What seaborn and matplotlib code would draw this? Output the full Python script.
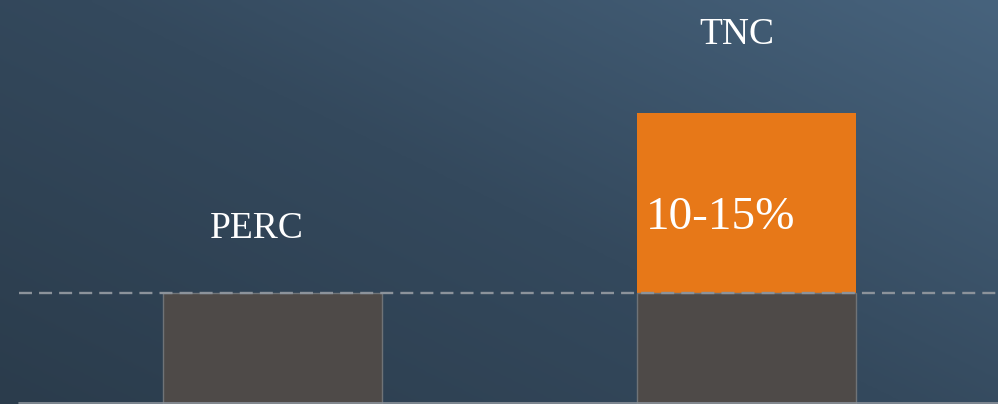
import numpy as np
import pandas as pd
import matplotlib
matplotlib.use("Agg")
import matplotlib.pyplot as plt
from matplotlib.colors import LinearSegmentedColormap
import seaborn as sns

# Cell technologies and their relative output (baseline = 1)
technologies = ["PERC", "TNC"]
baseline = [1.0, 1.0]
gain = [0.0, 1.62]
gain_label = "10-15%"

GRAY = "#4e4a48"
ORANGE = "#e77818"
EDGE = "#6f7377"
GUIDE = "#8c939b"

sns.set_theme(style="white")
plt.rcParams["font.family"] = ["Liberation Serif", "DejaVu Serif"]

df = pd.DataFrame({
    "tech": technologies,
    "base": baseline,
    "total": [b + g for b, g in zip(baseline, gain)],
})

fig = plt.figure(figsize=(9.98, 4.04), dpi=100)
ax = fig.add_axes([0, 0, 1, 1])

XMIN, XMAX = -0.575, 1.531
YMIN, YMAX = 0.0, 3.64

# diagonal blue background gradient
yy, xx = np.mgrid[0:1:200j, 0:1:400j]
t = 0.55 * xx + 0.45 * yy
bg = LinearSegmentedColormap.from_list("bg", ["#2b3c4c", "#34495d", "#47637d"])
ax.imshow(t, cmap=bg, origin="lower", extent=[XMIN, XMAX, YMIN, YMAX],
          aspect="auto", zorder=0, interpolation="bicubic")

# stacked bars: orange gain on top of the gray baseline
sns.barplot(data=df, x="tech", y="total", color=ORANGE, saturation=1,
            width=0.462, linewidth=0, ax=ax, zorder=2)
sns.barplot(data=df, x="tech", y="base", color=GRAY, saturation=1,
            width=0.462, edgecolor=EDGE, linewidth=1.0, ax=ax, zorder=3)

# baseline guide and floor line
ax.plot([XMIN + 0.04, XMAX], [baseline[0], baseline[0]], color=GUIDE,
        lw=1.7, dashes=(5.5, 3.0), zorder=4)
ax.plot([XMIN + 0.04, XMAX], [0.01, 0.01], color=GUIDE, lw=1.2, zorder=4)

# category names above each stack
ax.text(-0.033, 1.58, technologies[0], color="white", fontsize=27,
        ha="center", va="center", zorder=5)
ax.text(0.979, 3.33, technologies[1], color="white", fontsize=27,
        ha="center", va="center", zorder=5)
ax.text(0.788, baseline[1] + 0.68, gain_label, color="white", fontsize=34,
        ha="left", va="center", zorder=5)

ax.set_xlim(XMIN, XMAX)
ax.set_ylim(YMIN, YMAX)
ax.set_xlabel("")
ax.set_ylabel("")
ax.set_xticks([])
ax.set_yticks([])
for s in ax.spines.values():
    s.set_visible(False)

fig.savefig("out.png", dpi=100)
